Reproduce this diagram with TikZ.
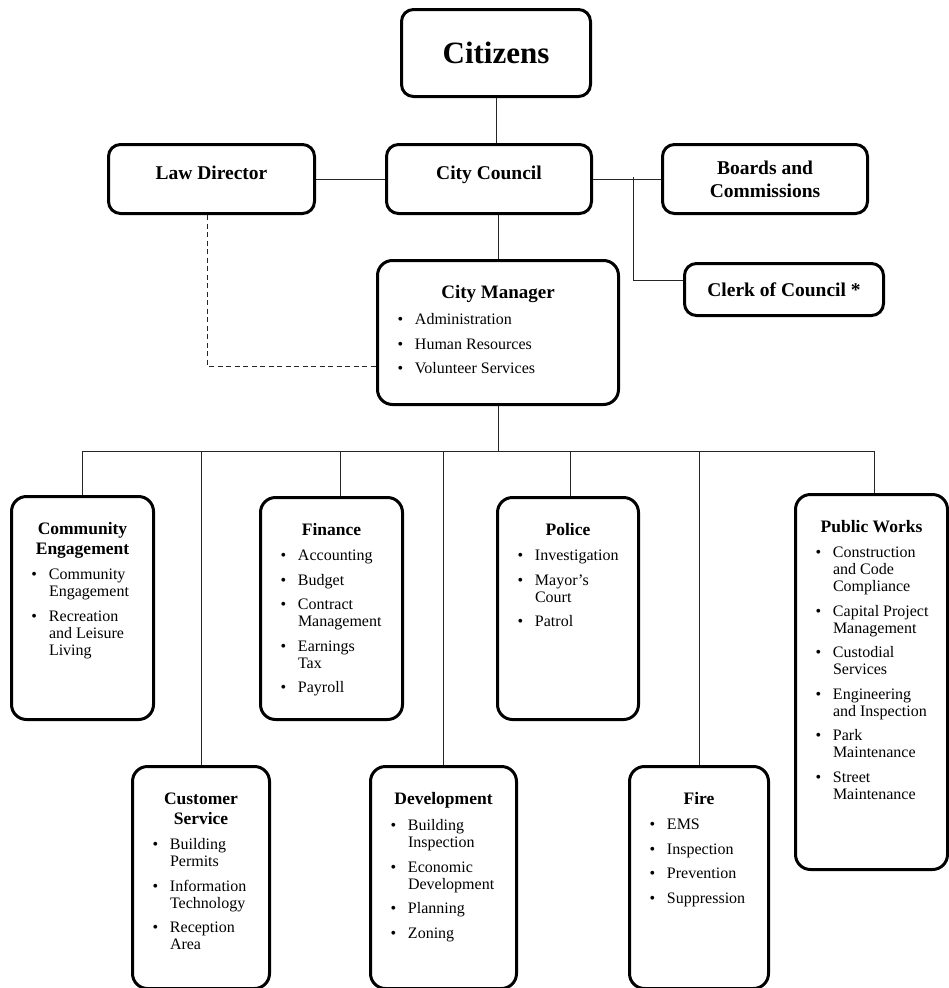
\documentclass[tikz,border=0pt]{standalone}
\usepackage{fontspec}
\setmainfont{Liberation Serif}
\usepackage{tikz}
\usetikzlibrary{positioning, calc}

\newcommand{\unithead}[2][17.5pt]{{\centering\fontsize{#1}{20pt}\selectfont\bfseries\strut#2\par}\vspace{8pt}}
\newcommand{\unititem}[1]{\noindent\hangindent=17.5pt\hangafter=1\makebox[17.5pt][l]{\textbullet}#1\par\vspace{7.5pt}}
\newcommand{\unitbody}[3]{\parbox[t][#2][t]{#1}{\fontsize{16pt}{17pt}\selectfont\parskip=0pt\raggedright\leftskip=20pt\vspace*{24pt}#3}}

\tikzset{
  unitbox/.style={draw, line width=3pt, rounded corners=12pt, inner sep=0pt, anchor=north west,
    align=center, font=\fontsize{19.5pt}{23pt}\selectfont\bfseries},
  deptbox/.style={draw, line width=3pt, rounded corners=15pt, inner sep=0pt, anchor=north west},
  link/.style={line width=1pt, black!85}
}

\begin{document}
\begin{tikzpicture}[x=1pt, y=-1pt]
	\useasboundingbox (0,0) rectangle (948,988);
	
	\node[unitbox, minimum width=189pt, minimum height=87pt, font=\fontsize{31pt}{34pt}\selectfont\bfseries] (citizens) at (400,8) {Citizens};
	\node[unitbox, minimum width=206pt, minimum height=69pt, text height=7pt, text depth=6pt] (law) at (107,143) {Law Director};
	\node[unitbox, minimum width=205pt, minimum height=69pt, text height=7pt, text depth=6pt] (council) at (385,143) {City Council};
	\node[unitbox, minimum width=205pt, minimum height=69pt] (boards) at (661,143) {Boards and\\Commissions};
	\node[unitbox, minimum width=199pt, minimum height=52pt] (clerk) at (683,262) {Clerk of Council *};
	
	\node[deptbox] (manager) at (376,259) {\unitbody{241pt}{144pt}{\unithead[19pt]{City Manager}
		\unititem{Administration}\unititem{Human Resources}\unititem{Volunteer Services}}};
	
	\node[deptbox] (commeng) at (10,495) {\unitbody{142pt}{223pt}{\unithead{Community\\Engagement}
		\unititem{Community\newline Engagement}\unititem{Recreation\newline and Leisure\newline Living}}};
	\node[deptbox] (custsvc) at (131,765) {\unitbody{137pt}{222pt}{\unithead{Customer\\Service}
		\unititem{Building\newline Permits}\unititem{Information\newline Technology}\unititem{Reception\newline Area}}};
	\node[deptbox] (finance) at (259,496) {\unitbody{142pt}{222pt}{\unithead{Finance}
		\unititem{Accounting}\unititem{Budget}\unititem{Contract\newline Management}\unititem{Earnings\newline Tax}\unititem{Payroll}}};
	\node[deptbox] (devel) at (369,765) {\unitbody{146pt}{222pt}{\unithead{Development}
		\unititem{Building\newline Inspection}\unititem{Economic\newline Development}\unititem{Planning}\unititem{Zoning}}};
	\node[deptbox] (police) at (496,496) {\unitbody{141pt}{222pt}{\unithead{Police}
		\unititem{Investigation}\unititem{Mayor's\newline Court}\unititem{Patrol}}};
	\node[deptbox] (fire) at (628,765) {\unitbody{139pt}{222pt}{\unithead{Fire}
		\unititem{EMS}\unititem{Inspection}\unititem{Prevention}\unititem{Suppression}}};
	\node[deptbox] (pubworks) at (794,493) {\unitbody{152pt}{375pt}{\unithead{Public Works}
		\unititem{Construction\newline and Code\newline Compliance}\unititem{Capital Project\newline Management}
		\unititem{Custodial\newline Services}\unititem{Engineering\newline and Inspection}
		\unititem{Park\newline Maintenance}\unititem{Street\newline Maintenance}}};
	
	\draw[link] (citizens.south) -- (citizens.south |- council.north);
	\draw[link] (law.east) -- (council.west);
	\draw[link] (council.east) -- (boards.west);
	\draw[link] (council.south -| manager.north) -- (manager.north);
	\coordinate (clerkjoint) at (633,177);
	\draw[link] (clerkjoint) |- ([yshift=9pt]clerk.west);
	\draw[link, dash pattern=on 5pt off 3.5pt] ([xshift=-4pt]law.south) |- ([yshift=-34pt]manager.west);
	
	\coordinate (bus) at (0,451);
	\draw[link] (manager.south) -- (manager.south |- bus);
	\foreach \u/\dx in {commeng/0pt, custsvc/0pt, finance/9pt, devel/0pt, police/2pt, fire/0pt, pubworks/3pt}
	{
		\coordinate (\u-top) at ([xshift=\dx]\u.north);
		\draw[link] (\u-top) -- (\u-top |- bus);
	}
	\draw[link] (commeng-top |- bus) -- (pubworks-top |- bus);
\end{tikzpicture}
\end{document}
